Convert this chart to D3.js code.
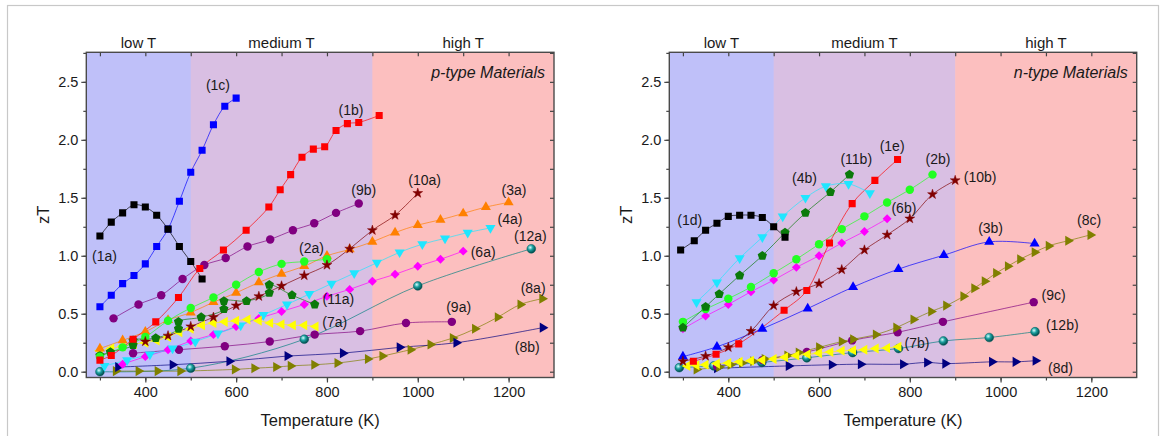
<!DOCTYPE html>
<html><head><meta charset="utf-8">
<script src="https://cdn.jsdelivr.net/npm/d3@7"></script>
<style>
body{margin:0;background:#fff}
text{font-family:"Liberation Sans",Arial,Helvetica,sans-serif;fill:#1a1a1a}
</style>
</head><body>
<svg id="c" width="1167" height="436"></svg>
<script>
// ---------------- data (Temperature K, zT) ----------------
const regionNames = ["low T", "medium T", "high T"];
const regionBounds = [270, 500, 900, 1300];
const xTicksMajor = [400, 600, 800, 1000, 1200];
const yTicksMajor = [0.0, 0.5, 1.0, 1.5, 2.0, 2.5];

// p-type
const p1a = [[300,1.17],[325,1.29],[350,1.37],[375,1.44],[400,1.42],[425,1.35],[450,1.23],[475,1.08],[500,0.95],[525,0.80]];
const p1c = [[300,0.56],[325,0.66],[350,0.76],[375,0.83],[400,0.93],[425,1.08],[450,1.23],[475,1.47],[500,1.72],[525,1.91],[550,2.13],[575,2.29],[600,2.36]];
const p1b = [[300,0.10],[325,0.14],[373,0.28],[423,0.43],[473,0.64],[520,0.89],[572,1.05],[622,1.22],[672,1.42],[697,1.57],[720,1.70],[745,1.85],[770,1.92],[795,1.94],[820,2.08],[845,2.14],[870,2.15],[915,2.21]];
const p9b = [[330,0.46],[385,0.58],[435,0.66],[482,0.80],[530,0.92],[577,0.98],[625,1.08],[675,1.14],[725,1.22],[772,1.28],[820,1.37],[870,1.45]];
const p10a = [[400,0.26],[450,0.31],[500,0.39],[550,0.47],[600,0.57],[650,0.65],[700,0.74],[750,0.83],[800,0.92],[850,1.06],[900,1.22],[950,1.35],[1000,1.54]];
const p3a = [[300,0.20],[350,0.27],[400,0.345],[450,0.445],[500,0.51],[550,0.60],[600,0.68],[650,0.77],[700,0.845],[750,0.91],[800,1.00],[850,1.055],[900,1.12],[950,1.20],[1000,1.265],[1050,1.31],[1100,1.365],[1150,1.42],[1200,1.46]];
const p4a = [[310,0.05],[360,0.10],[410,0.15],[460,0.20],[510,0.26],[560,0.33],[610,0.40],[660,0.49],[712,0.58],[761,0.67],[810,0.76],[860,0.85],[910,0.94],[960,1.03],[1010,1.10],[1060,1.15],[1110,1.20],[1160,1.24]];
const p6a = [[350,0.065],[400,0.13],[450,0.19],[500,0.265],[550,0.32],[600,0.39],[650,0.46],[700,0.52],[750,0.58],[800,0.65],[850,0.71],[900,0.78],[950,0.84],[1000,0.91],[1050,0.97],[1100,1.04]];
const p2a = [[300,0.13],[350,0.21],[400,0.30],[450,0.44],[500,0.55],[550,0.64],[600,0.75],[650,0.86],[700,0.93],[750,0.95],[800,0.97]];
const p11a = [[300,0.14],[323,0.17],[373,0.23],[373,0.27],[423,0.29],[473,0.37],[473,0.43],[523,0.47],[573,0.54],[573,0.61],[623,0.61],[673,0.68],[673,0.75],[723,0.66],[773,0.58]];
const p7a = [[300,0.18],[325,0.20],[350,0.22],[375,0.24],[400,0.25],[425,0.27],[450,0.30],[475,0.34],[500,0.37],[525,0.40],[550,0.42],[575,0.43],[600,0.44],[625,0.45],[650,0.44],[675,0.42],[700,0.41],[725,0.40],[750,0.40],[775,0.39]];
const p12a = [[300,0.0],[500,0.03],[750,0.28],[1000,0.74],[1250,1.06]];
const p8b = [[340,0.04],[460,0.06],[585,0.09],[713,0.135],[835,0.16],[960,0.21],[1085,0.25],[1275,0.38]];
const p8a = [[335,0.005],[385,0.005],[427,0.005],[477,0.005],[597,0.02],[640,0.03],[688,0.04],[720,0.05],[772,0.06],[823,0.075],[890,0.11],[922,0.135],[984,0.19],[1028,0.235],[1077,0.29],[1126,0.37],[1176,0.47],[1226,0.58],[1274,0.63]];
const p9a = [[373,0.16],[474,0.19],[575,0.22],[674,0.26],[773,0.32],[873,0.35],[974,0.42],[1075,0.43]];

// n-type
const n1d = [[295,1.05],[325,1.13],[350,1.22],[375,1.28],[400,1.34],[425,1.35],[450,1.35],[475,1.33],[500,1.25],[525,1.16]];
const n4b = [[330,0.60],[375,0.77],[425,0.98],[475,1.16],[520,1.34],[570,1.50],[615,1.60],[665,1.62],[712,1.54]];
const n11b = [[300,0.38],[350,0.56],[380,0.67],[425,0.83],[475,1.00],[525,1.20],[570,1.37],[625,1.55],[667,1.70]];
const n1e = [[323,0.09],[373,0.15],[423,0.24],[523,0.53],[573,0.70],[623,1.11],[673,1.45],[723,1.65],[773,1.83]];
const n2b = [[300,0.43],[350,0.54],[400,0.63],[450,0.73],[500,0.85],[550,0.97],[600,1.10],[650,1.23],[700,1.34],[750,1.46],[800,1.57],[850,1.70]];
const n6b = [[300,0.37],[350,0.48],[400,0.58],[450,0.69],[500,0.79],[550,0.90],[600,1.00],[650,1.11],[700,1.21],[750,1.32]];
const n10b = [[300,0.09],[350,0.135],[400,0.21],[450,0.35],[500,0.57],[550,0.69],[600,0.76],[650,0.88],[700,1.05],[750,1.18],[800,1.32],[850,1.53],[900,1.65]];
const n3b = [[300,0.13],[375,0.215],[475,0.37],[575,0.545],[675,0.73],[775,0.885],[875,1.005],[975,1.12],[1075,1.105]];
const n8c = [[330,0.02],[380,0.04],[405,0.06],[430,0.075],[455,0.09],[480,0.11],[530,0.14],[555,0.165],[600,0.21],[650,0.26],[675,0.28],[725,0.32],[770,0.38],[808,0.45],[847,0.52],[880,0.57],[918,0.65],[942,0.72],[965,0.78],[990,0.85],[1016,0.91],[1043,0.97],[1075,1.03],[1106,1.085],[1149,1.13],[1198,1.18]];
const n9c = [[375,0.05],[475,0.10],[573,0.17],[673,0.27],[773,0.34],[873,0.43],[1073,0.60]];
const n12b = [[292,0.035],[368,0.05],[474,0.08],[573,0.12],[674,0.165],[775,0.20],[874,0.265],[975,0.295],[1076,0.345]];
const n7b = [[310,0.05],[330,0.055],[350,0.06],[375,0.07],[400,0.075],[425,0.085],[450,0.095],[475,0.10],[500,0.11],[525,0.125],[550,0.14],[575,0.15],[600,0.16],[625,0.17],[650,0.18],[675,0.185],[700,0.19],[725,0.20],[750,0.205],[775,0.215]];
const n8d = [[375,0.03],[533,0.05],[628,0.06],[692,0.065],[785,0.065],[838,0.08],[878,0.07],[981,0.085],[1033,0.085],[1077,0.095]];

// labels: [text, T, zT]
const labelsP = [["(1a)",310,1.00],["(1c)",560,2.47],["(1b)",853,2.26],["(9b)",881,1.57],["(10a)",1015,1.65],["(3a)",1212,1.57],["(4a)",1203,1.32],["(12a)",1248,1.17],["(6a)",1144,1.03],["(8a)",1254,0.72],["(9a)",1090,0.56],["(8b)",1241,0.215],["(2a)",766,1.07],["(11a)",825,0.63],["(7a)",817,0.43]];
const labelsN = [["(1d)",315,1.31],["(4b)",568,1.67],["(11b)",682,1.83],["(1e)",761,1.95],["(2b)",862,1.83],["(10b)",955,1.68],["(6b)",787,1.41],["(3b)",978,1.24],["(8c)",1195,1.31],["(9c)",1117,0.66],["(12b)",1136,0.40],["(7b)",816,0.25],["(8d)",1132,0.03]];

// ---------------- styles ----------------
const C = {black:"#000000",blue:"#0000ff",red:"#ff0000",purple:"#800080",brown:"#800000",orange:"#ff8000",
  cyan:"#1fe6ff",magenta:"#ff00ff",lime:"#22ff22",dgreen:"#0a7a0a",yellow:"#ffff00",teal:"#008080",navy:"#000080",olive:"#808000"};
const seriesP = [
  {d:p12a,c:C.teal,m:"sphere"},{d:p8a,c:C.olive,m:"triR"},{d:p8b,c:C.navy,m:"triR"},{d:p9a,c:C.purple,m:"circle"},
  {d:p6a,c:C.magenta,m:"diamond"},{d:p4a,c:C.cyan,m:"triD"},{d:p7a,c:C.yellow,m:"triL"},{d:p11a,c:C.dgreen,m:"penta"},
  {d:p3a,c:C.orange,m:"triU"},{d:p2a,c:C.lime,m:"circle"},{d:p10a,c:C.brown,m:"star"},{d:p9b,c:C.purple,m:"circle"},
  {d:p1b,c:C.red,m:"square"},{d:p1c,c:C.blue,m:"square"},{d:p1a,c:C.black,m:"square"}];
const seriesN = [
  {d:n8d,c:C.navy,m:"triR"},{d:n12b,c:C.teal,m:"sphere"},{d:n9c,c:C.purple,m:"circle"},{d:n8c,c:C.olive,m:"triR"},
  {d:n7b,c:C.yellow,m:"triL"},{d:n3b,c:C.blue,m:"triU"},{d:n10b,c:C.brown,m:"star"},{d:n6b,c:C.magenta,m:"diamond"},
  {d:n2b,c:C.lime,m:"circle"},{d:n1e,c:C.red,m:"square"},{d:n11b,c:C.dgreen,m:"penta"},{d:n4b,c:C.cyan,m:"triD"},
  {d:n1d,c:C.black,m:"square"}];

const pentagon = {draw(ctx,size){const r=Math.sqrt(size/(2.5*Math.sin(2*Math.PI/5)));
  for(let i=0;i<5;i++){const a=-Math.PI/2+i*2*Math.PI/5;const x=r*Math.cos(a),y=r*Math.sin(a);i?ctx.lineTo(x,y):ctx.moveTo(x,y);}ctx.closePath();}};
const markers = {
  square:{t:d3.symbolSquare,s:50,r:0}, circle:{t:d3.symbolCircle,s:56,r:0}, sphere:{t:d3.symbolCircle,s:60,r:0},
  triU:{t:d3.symbolTriangle,s:44,r:0}, triD:{t:d3.symbolTriangle,s:44,r:180}, triL:{t:d3.symbolTriangle,s:44,r:-90},
  triR:{t:d3.symbolTriangle,s:44,r:90}, diamond:{t:d3.symbolSquare,s:40,r:45}, star:{t:d3.symbolStar,s:30,r:0},
  penta:{t:pentagon,s:56,r:0}};

const svg = d3.select("#c");
svg.append("rect").attr("x",0).attr("y",0).attr("width",1167).attr("height",436).attr("fill","#fff");
svg.append("rect").attr("x",7.5).attr("y",5.5).attr("width",1151).attr("height",440).attr("fill","none").attr("stroke","#c8c8c8").attr("stroke-width",1.2);

const defs = svg.append("defs");
const grad = defs.append("radialGradient").attr("id","sph").attr("cx","38%").attr("cy","35%").attr("r","65%");
grad.append("stop").attr("offset","0%").attr("stop-color","#d8ffff");
grad.append("stop").attr("offset","45%").attr("stop-color","#1aa0a0");
grad.append("stop").attr("offset","100%").attr("stop-color","#004848");

const regionColors = ["#bfc0f9","#d9bfe3","#fcbfbf"];
const yTop = 52.3, yBottom = 377.5;

function panel(x0, x1, series, labels, title) {
  const x = d3.scaleLinear().domain([regionBounds[0], regionBounds[3]]).range([x0, x1]);
  const y = d3.scaleLinear().domain([-0.05, 2.755]).range([yBottom, yTop]);
  const p = svg.append("g");
  for (let i = 0; i < 3; i++) {
    p.append("rect").attr("x", x(regionBounds[i])).attr("y", yTop)
      .attr("width", x(regionBounds[i+1]) - x(regionBounds[i]) + (i < 2 ? 0.6 : 0)).attr("height", yBottom - yTop)
      .attr("fill", regionColors[i]);
    p.append("text").attr("x", (x(regionBounds[i]) + x(regionBounds[i+1])) / 2).attr("y", 48)
      .attr("text-anchor", "middle").attr("font-size", 15).text(regionNames[i]);
  }
  const clip = "clip" + Math.round(x0);
  defs.append("clipPath").attr("id", clip).append("rect").attr("x", x0).attr("y", yTop).attr("width", x1 - x0).attr("height", yBottom - yTop);
  const line = d3.line().x(d => x(d[0])).y(d => y(d[1])).curve(d3.curveCatmullRom.alpha(0.5));
  const dg = p.append("g").attr("clip-path", `url(#${clip})`);
  series.forEach(s => {
    dg.append("path").attr("d", line(s.d)).attr("fill", "none").attr("stroke", s.c).attr("stroke-width", 0.85).attr("stroke-opacity", 0.8);
  });
  series.forEach(s => {
    const mk = markers[s.m];
    const sym = d3.symbol().type(mk.t).size(mk.s);
    dg.selectAll(null).data(s.d).enter().append("path").attr("d", sym)
      .attr("transform", d => `translate(${x(d[0])},${y(d[1])}) rotate(${mk.r})`)
      .attr("fill", s.m === "sphere" ? "url(#sph)" : s.c)
      .attr("stroke", s.m === "sphere" ? "#005a5a" : (s.m === "star" ? s.c : "none")).attr("stroke-width", 0.5);
  });
  const xMinor = d3.range(300, 1300, 100);
  const yMinor = d3.range(0, 2.76, 0.25);
  const bx = d3.axisBottom(x).tickValues(xTicksMajor).tickSize(5).tickFormat(d3.format("d")).tickPadding(4);
  const ax = p.append("g").attr("transform", `translate(0,${yBottom})`).call(bx);
  ax.append("g").call(d3.axisBottom(x).tickValues(xMinor).tickSize(3).tickFormat(""));
  const ly = d3.axisLeft(y).tickValues(yTicksMajor).tickSize(5).tickFormat(d3.format(".1f")).tickPadding(3);
  const ay = p.append("g").attr("transform", `translate(${x0},0)`).call(ly);
  ay.append("g").call(d3.axisLeft(y).tickValues(yMinor).tickSize(3).tickFormat(""));
  p.append("g").attr("transform", `translate(0,${yTop})`).call(d3.axisBottom(x).tickValues(xMinor).tickSize(4).tickFormat(""));
  p.append("g").attr("transform", `translate(${x1},0)`).call(d3.axisLeft(y).tickValues(yMinor).tickSize(4).tickFormat(""));
  p.selectAll(".domain").remove();
  p.selectAll(".tick line").attr("stroke", "#444").attr("stroke-width", 1.2);
  p.selectAll(".tick text").attr("font-size", 14.5).attr("fill", "#1a1a1a").attr("font-family", '"Liberation Sans",Arial,sans-serif');
  p.append("rect").attr("x", x0).attr("y", yTop).attr("width", x1 - x0).attr("height", yBottom - yTop)
    .attr("fill", "none").attr("stroke", "#4a4a4a").attr("stroke-width", 1.4);
  p.append("text").attr("x", (x0 + x1) / 2).attr("y", 426).attr("text-anchor", "middle").attr("font-size", 16.5).text("Temperature (K)");
  p.append("text").attr("transform", `translate(${x0 - 37},${(yTop + yBottom) / 2}) rotate(-90)`).attr("text-anchor", "middle")
    .attr("font-size", 16.5).text("zT");
  p.append("text").attr("x", x1 - 9).attr("y", 78).attr("text-anchor", "end").attr("font-size", 16).attr("font-style", "italic").text(title);
  labels.forEach(l => {
    p.append("text").attr("x", x(l[1])).attr("y", y(l[2])).attr("dy", "0.35em").attr("text-anchor", "middle")
      .attr("font-size", 14).text(l[0]);
  });
}
panel(86.3, 554, seriesP, labelsP, "p-type Materials");
panel(669.3, 1136.7, seriesN, labelsN, "n-type Materials");
</script>
</body></html>
